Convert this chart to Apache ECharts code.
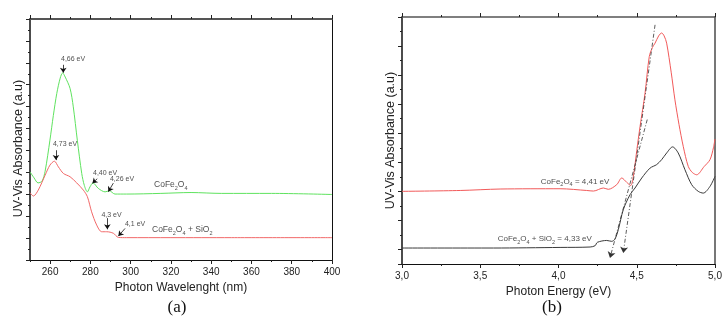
<!DOCTYPE html>
<html>
<head>
<meta charset="utf-8">
<script src="https://cdn.jsdelivr.net/npm/echarts@6/dist/echarts.min.js"></script>
<style>
  html, body { margin: 0; padding: 0; background: #fff; }
  #main { width: 727px; height: 325px; }
</style>
</head>
<body>
<div id="main"></div>
<script>
// (a) absorbance vs wavelength (nm)
var aGreenX = [250, 252, 254, 256, 257.5, 259.9, 261.6, 263.3, 265, 266.2, 267.5, 269.9, 271.5, 273.5, 275.7, 277, 278.5, 279.8, 281.3, 283.9, 287.3, 289.4, 292.2, 298, 315, 330, 345, 370, 400];
var aGreenY = [4.02, 3.75, 3.52, 3.6, 4.05, 5.47, 6.6, 7.6, 8.3, 8.54, 8.35, 7.83, 6.99, 5.47, 3.95, 3.4, 3.11, 3.34, 3.52, 3.27, 3.11, 3.16, 3.01, 3.01, 3.04, 3.08, 3.04, 3.04, 2.99];
var aRedX = [250, 251.7, 254.1, 257.5, 259.9, 262.1, 264.1, 266.6, 269.9, 273.2, 276.5, 278.5, 280.6, 283.1, 285.6, 288.1, 291.4, 293.9, 298, 320, 350, 400];
var aRedY = [3.07, 2.92, 3.19, 3.87, 4.33, 4.51, 4.25, 3.95, 3.80, 3.52, 3.19, 2.89, 2.20, 1.60, 1.29, 1.29, 1.22, 1.03, 1.02, 1.02, 1.02, 1.02];

// annotation arrows in (a): [x1, y1, x2, y2]
var aGreenArrows = [[266.5, 8.91, 266.5, 8.55], [283.4, 3.71, 281.0, 3.50], [291.4, 3.51, 288.9, 3.12]];
var aRedArrows = [[262.9, 5.01, 262.9, 4.56], [288.4, 1.91, 288.4, 1.40], [297.2, 1.44, 293.9, 1.09]];
var aPeakText = ['4,66 eV', '4,73 eV', '4,40 eV', '4,26 eV', '4,3 eV', '4,1 eV'];
var aPeakPos = [[271.4, 9.19], [267.4, 5.29], [287.3, 3.95], [295.7, 3.68], [290.5, 2.05], [302.2, 1.64]];
var aNameText = ['CoFe{s|2}O{s|4}', 'CoFe{s|2}O{s|4} + SiO{s|2}'];
var aNamePos = [[311.6, 3.42], [310.6, 1.37]];

// (b) absorbance vs photon energy (eV)
var bRedX = [3.0, 3.372, 3.627, 4.010, 4.18, 4.223, 4.287, 4.318, 4.372, 4.404, 4.436, 4.461, 4.478, 4.5, 4.521, 4.553, 4.580, 4.600, 4.617, 4.640, 4.659, 4.675, 4.691, 4.72, 4.744, 4.77, 4.797, 4.829, 4.855, 4.883, 4.93, 4.968, 4.99, 5.0];
var bRedY = [2.50, 2.53, 2.58, 2.59, 2.53, 2.51, 2.615, 2.57, 2.73, 2.96, 2.81, 2.70, 3.01, 3.9, 4.73, 5.88, 7.14, 7.45, 7.6, 7.85, 7.95, 7.85, 7.6, 6.6, 5.65, 4.8, 4.05, 3.36, 3.15, 3.07, 3.35, 3.59, 4.0, 4.3];
var bBlackX = [3.0, 3.585, 4.010, 4.202, 4.234, 4.248, 4.308, 4.340, 4.361, 4.382, 4.414, 4.457, 4.489, 4.532, 4.585, 4.627, 4.659, 4.691, 4.729, 4.765, 4.808, 4.851, 4.893, 4.925, 4.968, 5.0];
var bBlackY = [0.55, 0.55, 0.57, 0.585, 0.63, 0.745, 0.81, 0.78, 0.86, 1.18, 1.87, 2.385, 2.615, 2.96, 3.30, 3.42, 3.59, 3.82, 4.03, 3.82, 3.245, 2.73, 2.50, 2.44, 2.67, 3.015];
var bTangents = [[4.617, 8.23, 4.414, 0.38], [4.567, 4.97, 4.329, 0.21]];
var bNameText = ['CoFe{s|2}O{s|4} = 4,41 eV', 'CoFe{s|2}O{s|4} + SiO{s|2} = 4,33 eV'];
var bNamePos = [[4.325, 2.84], [4.213, 0.86]];

var FONT = 'Liberation Sans, Arial, sans-serif';

function zip(xs, ys) {
    var out = [];
    for (var i = 0; i < xs.length; i++) out.push([xs[i], ys[i]]);
    return out;
}
function arrowData(list) {
    return list.map(function (a) {
        return [{coord: [a[0], a[1]]}, {coord: [a[2], a[3]]}];
    });
}
function textData(texts, pos) {
    return texts.map(function (t, i) {
        return {name: t, value: pos[i]};
    });
}

var tickStyle = {color: '#222', width: 1};
var subRich = {s: {fontSize: 5.5, lineHeight: 5, verticalAlign: 'bottom', fontFamily: FONT, color: '#222'}};

var myChart = echarts.init(document.getElementById('main'), null, {renderer: 'canvas'});
var option = {
    animation: false,
    backgroundColor: '#fff',
    grid: [
        {left: 30, top: 19, width: 302, height: 241},
        {left: 402, top: 17, width: 313, height: 247}
    ],
    xAxis: [
        {   // (a) bottom, major
            gridIndex: 0, type: 'value', position: 'bottom', min: 250, max: 400, splitNumber: 8,
            axisLine: {lineStyle: {color: '#111', width: 1}},
            axisTick: {length: 4, lineStyle: tickStyle},
            axisLabel: {showMinLabel: false, fontSize: 10, fontFamily: FONT, color: '#222', margin: 7},
            splitLine: {show: false},
            name: 'Photon Wavelenght (nm)', nameLocation: 'middle', nameGap: 19,
            nameTextStyle: {fontSize: 12, fontFamily: FONT, color: '#222'}
        },
        {   // (a) bottom, minor
            gridIndex: 0, type: 'value', position: 'bottom', min: 250, max: 400, interval: 10,
            axisLine: {show: false}, axisTick: {length: 2, lineStyle: tickStyle},
            axisLabel: {show: false}, splitLine: {show: false}
        },
        {   // (a) top, major
            gridIndex: 0, type: 'value', position: 'top', min: 250, max: 400, splitNumber: 8,
            axisLine: {lineStyle: {color: '#555', width: 2}},
            axisTick: {length: 4, lineStyle: tickStyle},
            axisLabel: {show: false}, splitLine: {show: false}
        },
        {   // (a) top, minor
            gridIndex: 0, type: 'value', position: 'top', min: 250, max: 400, interval: 10,
            axisLine: {show: false}, axisTick: {length: 2, lineStyle: tickStyle},
            axisLabel: {show: false}, splitLine: {show: false}
        },
        {   // (b) bottom
            gridIndex: 1, type: 'value', position: 'bottom', min: 3, max: 5, interval: 0.5,
            axisLine: {lineStyle: {color: '#111', width: 1}},
            axisTick: {length: 4, lineStyle: tickStyle},
            minorTick: {show: true, splitNumber: 2, length: 2, lineStyle: tickStyle},
            axisLabel: {
                fontSize: 10, fontFamily: FONT, color: '#222', margin: 7,
                formatter: function (v) { return v.toFixed(1).replace('.', ','); }
            },
            splitLine: {show: false}, minorSplitLine: {show: false},
            name: 'Photon Energy (eV)', nameLocation: 'middle', nameGap: 16,
            nameTextStyle: {fontSize: 12, fontFamily: FONT, color: '#222'}
        },
        {   // (b) top
            gridIndex: 1, type: 'value', position: 'top', min: 3, max: 5, interval: 0.5,
            axisLine: {lineStyle: {color: '#555', width: 1.5}},
            axisTick: {length: 4, lineStyle: tickStyle},
            minorTick: {show: true, splitNumber: 2, length: 2, lineStyle: tickStyle},
            axisLabel: {show: false}, splitLine: {show: false}, minorSplitLine: {show: false}
        }
    ],
    yAxis: [
        {   // (a) left
            gridIndex: 0, type: 'value', position: 'left', min: 0, max: 11, interval: 1,
            axisLine: {lineStyle: {color: '#111', width: 1.5}},
            axisTick: {length: 4, lineStyle: tickStyle},
            minorTick: {show: true, splitNumber: 2, length: 2, lineStyle: tickStyle},
            axisLabel: {show: false}, splitLine: {show: false}, minorSplitLine: {show: false},
            name: 'UV-Vis Absorbance (a.u)', nameLocation: 'middle', nameGap: 5,
            nameTextStyle: {fontSize: 12.5, fontFamily: FONT, color: '#222', padding: [0, 18, 0, 0]}
        },
        {   // (a) right
            gridIndex: 0, type: 'value', position: 'right', min: 0, max: 11,
            axisLine: {show: true, lineStyle: {color: '#111', width: 1}},
            axisTick: {show: false}, axisLabel: {show: false}, splitLine: {show: false}
        },
        {   // (b) left, minor positions
            gridIndex: 1, type: 'value', position: 'left', min: 0, max: 8.5, interval: 0.5,
            axisLine: {lineStyle: {color: '#111', width: 1.5}},
            axisTick: {length: 2, lineStyle: tickStyle},
            axisLabel: {show: false}, splitLine: {show: false},
            name: 'UV-Vis Absorbance (a.u)', nameLocation: 'middle', nameGap: 5,
            nameTextStyle: {fontSize: 12.5, fontFamily: FONT, color: '#222'}
        },
        {   // (b) left, major positions (counted from the top)
            gridIndex: 1, type: 'value', position: 'left', min: 0, max: 8.5, interval: 1, inverse: true,
            axisLine: {show: false},
            axisTick: {length: 4, lineStyle: tickStyle},
            axisLabel: {show: false}, splitLine: {show: false}
        },
        {   // (b) right
            gridIndex: 1, type: 'value', position: 'right', min: 0, max: 8.5,
            axisLine: {show: true, lineStyle: {color: '#777', width: 2}},
            axisTick: {show: false}, axisLabel: {show: false}, splitLine: {show: false}
        }
    ],
    series: [
        {
            name: 'CoFe2O4', type: 'line', xAxisIndex: 0, yAxisIndex: 0,
            data: zip(aGreenX, aGreenY), smooth: 0.3, showSymbol: false,
            lineStyle: {color: '#5fe35f', width: 1}, itemStyle: {color: '#5fe35f'},
            markLine: {
                silent: true, symbol: ['none', 'arrow'], symbolSize: 5,
                label: {show: false}, lineStyle: {color: '#111', width: 0.8, type: 'solid'},
                data: arrowData(aGreenArrows)
            }
        },
        {
            name: 'CoFe2O4 + SiO2', type: 'line', xAxisIndex: 0, yAxisIndex: 0,
            data: zip(aRedX, aRedY), smooth: 0.3, showSymbol: false,
            lineStyle: {color: '#f26868', width: 1}, itemStyle: {color: '#f26868'},
            markLine: {
                silent: true, symbol: ['none', 'arrow'], symbolSize: 5,
                label: {show: false}, lineStyle: {color: '#111', width: 0.8, type: 'solid'},
                data: arrowData(aRedArrows)
            }
        },
        {
            type: 'scatter', xAxisIndex: 0, yAxisIndex: 0, silent: true, symbolSize: 0,
            data: textData(aPeakText, aPeakPos),
            label: {show: true, position: 'inside', formatter: '{b}', fontSize: 7, fontFamily: FONT, color: '#222'}
        },
        {
            type: 'scatter', xAxisIndex: 0, yAxisIndex: 0, silent: true, symbolSize: 0,
            data: textData(aNameText, aNamePos),
            label: {
                show: true, position: 'inside', align: 'left', formatter: '{b}',
                fontSize: 8.5, lineHeight: 12, fontFamily: FONT, color: '#222', rich: subRich
            }
        },
        {
            name: 'CoFe2O4 (b)', type: 'line', xAxisIndex: 4, yAxisIndex: 2,
            data: zip(bRedX, bRedY), smooth: 0.3, showSymbol: false,
            lineStyle: {color: '#f25a5a', width: 1}, itemStyle: {color: '#f25a5a'}
        },
        {
            name: 'CoFe2O4 + SiO2 (b)', type: 'line', xAxisIndex: 4, yAxisIndex: 2,
            data: zip(bBlackX, bBlackY), smooth: 0.3, showSymbol: false,
            lineStyle: {color: '#3a3a3a', width: 1}, itemStyle: {color: '#3a3a3a'},
            markLine: {
                silent: true, symbol: ['none', 'arrow'], symbolSize: 6,
                label: {show: false}, lineStyle: {color: '#333', width: 0.8, type: [4, 2, 1, 2]},
                data: arrowData(bTangents)
            }
        },
        {
            type: 'scatter', xAxisIndex: 4, yAxisIndex: 2, silent: true, symbolSize: 0,
            data: textData(bNameText, bNamePos),
            label: {
                show: true, position: 'inside', align: 'right', formatter: '{b}',
                fontSize: 8, lineHeight: 12, fontFamily: FONT, color: '#222', rich: subRich
            }
        }
    ],
    graphic: [
        {type: 'text', x: 177, y: 308, style: {text: '(a)', font: '17px "Liberation Serif", serif', fill: '#111', textAlign: 'center', textVerticalAlign: 'middle'}},
        {type: 'text', x: 552, y: 308, style: {text: '(b)', font: '17px "Liberation Serif", serif', fill: '#111', textAlign: 'center', textVerticalAlign: 'middle'}}
    ]
};
myChart.setOption(option);
</script>
</body>
</html>
